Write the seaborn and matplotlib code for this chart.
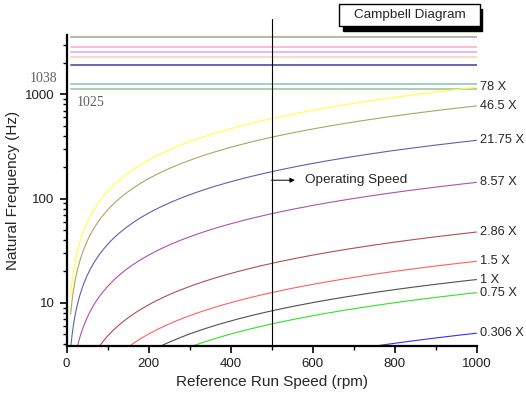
import numpy as np
import matplotlib
matplotlib.use("Agg")
import matplotlib.pyplot as plt
from matplotlib.patches import Rectangle
from matplotlib.ticker import LogLocator, MultipleLocator, NullFormatter
import seaborn as sns

# engine orders and their frequency (Hz) at 1000 rpm
order_labels = ["78 X", "46.5 X", "21.75 X", "8.57 X", "2.86 X", "1.5 X", "1 X", "0.75 X", "0.306 X"]
end_freqs = [1170, 775, 362, 143, 47.7, 25.0, 16.7, 12.5, 5.1]
order_colors = ["#ffff40", "#a8a860", "#6060b0", "#b050b0", "#b05050",
                "#ff6060", "#505050", "#30e030", "#3030ff"]

# natural frequencies (Hz) drawn as flat lines
nat_freqs = [3605, 3527, 2864, 2565, 2297, 1898, 1247, 1124]
nat_colors = ["#ffffc8", "#b0b0b0", "#ffb8cc", "#d4b8ff", "#ffd4bc",
              "#5a5aa8", "#98ccc8", "#a8cca8"]

speed_range = [10, 1000]
operating_speed = 500

sns.set_theme(style="ticks")
plt.rcParams["font.family"] = ["Liberation Sans", "DejaVu Sans"]

fig = plt.figure(figsize=(5.26, 3.95), dpi=100)
ax = fig.add_axes([66.5 / 526, 1 - 345.7 / 395, 410 / 526, 310.7 / 395])

for f, c in zip(nat_freqs, nat_colors):
    sns.lineplot(x=speed_range, y=[f, f], color=c, lw=1.3, ax=ax)

rpm = np.linspace(speed_range[0], speed_range[1], 300)
for lab, f, c in zip(order_labels, end_freqs, order_colors):
    sns.lineplot(x=rpm, y=f * rpm / 1000, color=c, lw=0.8, ax=ax)
    ax.annotate(lab, (1000, f), xytext=(2.5, 0), textcoords="offset points",
                va="center", ha="left", fontsize=9.2, annotation_clip=False)

ax.set_yscale("log")
ax.set_xlim(0, 1000)
ax.set_ylim(3.87, 3714)

ax.axvline(operating_speed, ymin=0, ymax=1.052, color="black", lw=0.8, clip_on=False)
ax.annotate("", xy=(557, 150), xytext=(500, 150),
            arrowprops=dict(arrowstyle="-|>", color="black", lw=0.7, mutation_scale=7,
                            shrinkA=0, shrinkB=0))
ax.text(582, 150, "Operating Speed", va="center", ha="left", fontsize=9.7)

ax.text(-55, 1434, "1038", fontsize=10, color="#606060", family="Liberation Serif",
        ha="center", va="center", clip_on=False)
ax.text(60, 844, "1025", fontsize=10, color="#606060", family="Liberation Serif",
        ha="center", va="center")

ax.xaxis.set_major_locator(MultipleLocator(200))
ax.xaxis.set_minor_locator(MultipleLocator(100))
ax.yaxis.set_minor_locator(LogLocator(base=10, subs=np.arange(2, 10), numticks=20))
ax.yaxis.set_minor_formatter(NullFormatter())
ax.set_yticks([10, 100, 1000])
ax.set_yticklabels(["10", "100", "1000"])

ax.tick_params(which="major", length=5, width=1.2, labelsize=9.5, direction="out",
               color="black", labelcolor="#202020")
ax.tick_params(which="minor", length=3, width=1.0, direction="out", color="black")
for side in ["left", "bottom"]:
    ax.spines[side].set_linewidth(1.6)
    ax.spines[side].set_color("black")
sns.despine(ax=ax)

ax.set_xlabel("Reference Run Speed (rpm)", fontsize=11)
ax.set_ylabel("Natural Frequency (Hz)", fontsize=11)
ax.grid(False)

# title box with drop shadow
fig.add_artist(Rectangle((343 / 526, 1 - 31 / 395), 139 / 526, 22 / 395,
                         transform=fig.transFigure, fc="black", ec="black", lw=1))
fig.add_artist(Rectangle((339 / 526, 1 - 26 / 395), 141 / 526, 22 / 395,
                         transform=fig.transFigure, fc="white", ec="black", lw=1))
fig.text(410 / 526, 1 - 15 / 395, "Campbell Diagram", ha="center", va="center", fontsize=9.7)

fig.savefig("out.png", dpi=100)
